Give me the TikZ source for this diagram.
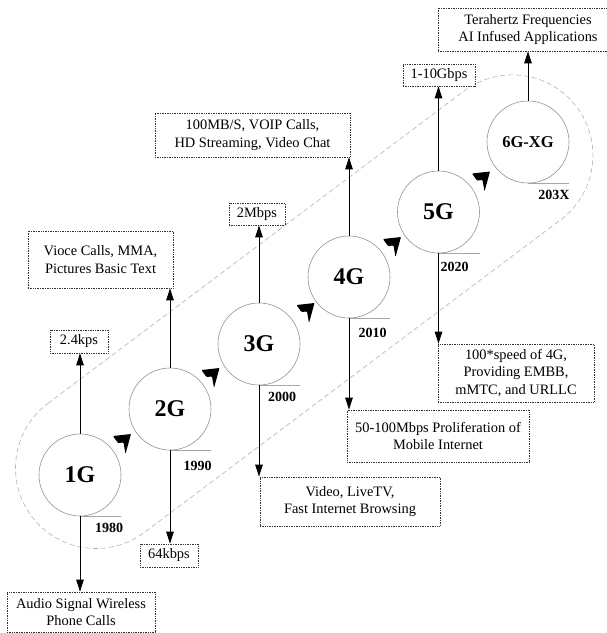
\documentclass[tikz,border=0pt]{standalone}
\usepackage{fontspec}
\setmainfont{Liberation Serif}
\usetikzlibrary{arrows.meta,calc}
\begin{document}
\begin{tikzpicture}[x=1pt,y=-1pt,
  gen/.style={circle, draw=gray!85, line width=0.6pt, fill=white, minimum size=82pt, inner sep=0pt, font=\fontsize{24}{24}\selectfont\bfseries},
  gensmall/.style={gen, font=\fontsize{16.5}{16.5}\selectfont\bfseries},
  yr/.style={font=\fontsize{14}{14}\selectfont\bfseries, inner sep=0pt},
  info/.style={draw=black!80, densely dotted, line width=0.7pt, fill=white, align=center, inner sep=0pt, font=\fontsize{14.4}{17.3}\selectfont},
  arr/.style={-{Triangle[length=12pt,width=7.5pt]}, line width=1pt, black},
  yline/.style={draw=gray!70, line width=0.6pt},
  band/.style={draw=gray!60, dash pattern=on 5pt off 3pt, line width=0.6pt},
  chev/.pic={\fill[black, rounded corners=0.8pt] (0,0) -- (-18,2) -- (-13,9) -- (-7.5,8.5) -- (-5.5,20) -- cycle;}
]
\useasboundingbox (0,0) rectangle (607,633);

% dashed band
\draw[band, shift={(96,468)}, rotate=36.9] (0,-80.5) -- (520.7,-80.5) arc[start angle=-90,end angle=90,radius=80.5] -- (0,80.5) arc[start angle=90,end angle=270,radius=80.5] -- cycle;

% generations
\node[gen] (g1) at (80,475) {1G};
\node[gen] (g2) at (170,409) {2G};
\node[gen] (g3) at (259,344) {3G};
\node[gen] (g4) at (349,277) {4G};
\node[gen] (g5) at (438.5,212) {5G};
\node[gensmall] (g6) at (528,142) {6G-XG};

% year lines
\foreach \g in {g1,g2,g3,g4,g5,g6} \draw[yline] (\g.south) -- ++(41,0);

% years
\node[yr] (y1) at (109,528) {1980};
\node[yr] (y2) at (197.5,466) {1990};
\node[yr] (y3) at (282,397) {2000};
\node[yr] (y4) at (372.5,333) {2010};
\node[yr] (y5) at (454.5,267) {2020};
\node[yr] (y6) at (554,195) {203X};

% chevrons
\pic (c1) at (131,434) {chev};
\pic (c2) at (219.5,368) {chev};
\pic (c3) at (314.5,303) {chev};
\pic (c4) at (401,237) {chev};
\pic (c5) at (490,171.5) {chev};

% info boxes
\node[info, minimum width=148pt, minimum height=40pt] (b1d) at (81,612) {Audio Signal Wireless\\Phone Calls};
\node[info, minimum width=58pt, minimum height=23pt] (b1u) at (79,341.5) {2.4kps};
\node[info, minimum width=58pt, minimum height=23pt] (b2d) at (169,555.5) {64kbps};
\node[info, minimum width=145pt, minimum height=57pt] (b2u) at (100.5,259.5) {Vioce Calls, MMA,\\Pictures Basic Text};
\node[info, minimum width=56pt, minimum height=22pt] (b3u) at (257,214) {2Mbps};
\node[info, minimum width=180pt, minimum height=49pt] (b3d) at (350,501.5) {Video, LiveTV,\\Fast Internet Browsing};
\node[info, minimum width=195pt, minimum height=44pt] (b4u) at (252.5,135) {100MB/S, VOIP Calls,\\HD Streaming, Video Chat};
\node[info, minimum width=182pt, minimum height=52pt] (b4d) at (438,436) {50-100Mbps Proliferation of\\Mobile Internet};
\node[info, minimum width=72pt, minimum height=22pt] (b5u) at (439,75) {1-10Gbps};
\node[info, minimum width=156pt, minimum height=58pt] (b5d) at (516,373) {100*speed of 4G,\\Providing EMBB,\\mMTC, and URLLC};
\node[info, minimum width=180pt, minimum height=43pt] (b6u) at (528,29.5) {Terahertz Frequencies\\AI Infused Applications};

% arrows
\draw[arr] (g1.south) -- (g1.south |- b1d.north);
\draw[arr] (g1.north) -- (g1.north |- b1u.south);
\draw[arr] (g2.south) -- (g2.south |- b2d.north);
\draw[arr] (g2.north) -- (g2.north |- b2u.south);
\draw[arr] (g3.north) -- (g3.north |- b3u.south);
\draw[arr] (g3.south) -- (g3.south |- b3d.north);
\draw[arr] (g4.north) -- (g4.north |- b4u.south);
\draw[arr] (g4.south) -- (g4.south |- b4d.north);
\draw[arr] (g5.north) -- (g5.north |- b5u.south);
\draw[arr] (g5.south) -- (g5.south |- b5d.north);
\draw[arr] (g6.north) -- (g6.north |- b6u.south);
\end{tikzpicture}
\end{document}
